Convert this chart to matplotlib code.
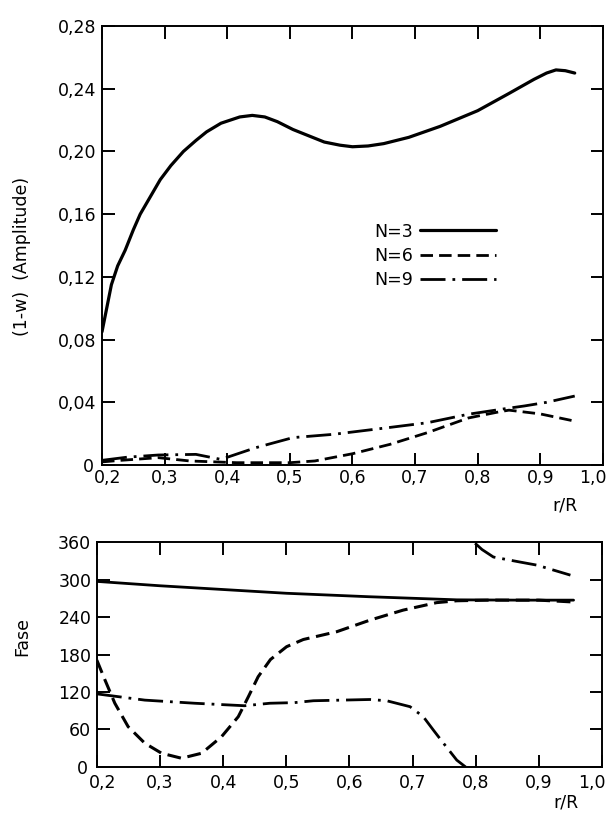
import matplotlib
matplotlib.use("Agg")
import matplotlib.pyplot as plt
from matplotlib.transforms import ScaledTranslation

# ---------------- data ----------------
amp_r_n3 = [0.200, 0.205, 0.215, 0.225, 0.237, 0.250, 0.261, 0.277, 0.293, 0.310,
            0.330, 0.350, 0.367, 0.390, 0.420, 0.440, 0.460, 0.480, 0.505, 0.530,
            0.555, 0.580, 0.600, 0.625, 0.650, 0.690, 0.740, 0.770, 0.800, 0.850,
            0.890, 0.910, 0.925, 0.940, 0.955]
amp_n3 = [0.085, 0.095, 0.115, 0.127, 0.137, 0.150, 0.160, 0.171, 0.182, 0.191,
          0.200, 0.207, 0.2125, 0.218, 0.222, 0.223, 0.222, 0.219, 0.214, 0.210,
          0.206, 0.204, 0.203, 0.2035, 0.205, 0.209, 0.216, 0.221, 0.226, 0.237,
          0.246, 0.250, 0.252, 0.2515, 0.250]

amp_r_n6 = [0.200, 0.230, 0.290, 0.340, 0.415, 0.500, 0.540, 0.600, 0.660, 0.720,
            0.785, 0.835, 0.850, 0.900, 0.955]
amp_n6 = [0.002, 0.003, 0.0047, 0.0026, 0.0015, 0.0015, 0.0026, 0.0072, 0.0132, 0.0207,
          0.030, 0.034, 0.035, 0.0326, 0.028]

amp_r_n9 = [0.200, 0.240, 0.290, 0.350, 0.390, 0.445, 0.505, 0.570, 0.660, 0.720,
            0.785, 0.845, 0.875, 0.910, 0.955]
amp_n9 = [0.003, 0.005, 0.0064, 0.0068, 0.0036, 0.011, 0.0175, 0.0196, 0.024, 0.027,
          0.0324, 0.036, 0.0377, 0.040, 0.044]

ph_r_n3 = [0.20, 0.30, 0.40, 0.50, 0.63, 0.77, 0.87, 0.955]
ph_n3 = [297, 290, 284, 278, 272.5, 267.5, 267, 267]

ph_r_n6 = [0.200, 0.213, 0.2285, 0.2496, 0.276, 0.3025, 0.334, 0.366, 0.3975, 0.424,
           0.440, 0.4555, 0.475, 0.5005, 0.527, 0.580, 0.6325, 0.685, 0.738, 0.770,
           0.821, 0.900, 0.955]
ph_n6 = [171, 139, 102, 64.5, 38, 22, 14, 22, 48.5, 80.5,
         112.5, 144.5, 172, 192.5, 204, 216.5, 235, 251, 263, 266,
         267, 267, 264]

ph_r_n9_a = [0.200, 0.276, 0.355, 0.434, 0.474, 0.513, 0.543, 0.6325, 0.659, 0.696,
             0.717, 0.733, 0.749, 0.770, 0.784]
ph_n9_a = [117, 107, 102, 98, 102, 103, 106, 108, 106, 96.5,
           80.5, 59, 38, 11, 0]
ph_r_n9_b = [0.799, 0.810, 0.828, 0.870, 0.897, 0.950]
ph_n9_b = [358, 348, 336, 328, 323, 307]

amp_yticks = [0, 0.04, 0.08, 0.12, 0.16, 0.20, 0.24, 0.28]
amp_ylabels = ["0", "0,04", "0,08", "0,12", "0,16", "0,20", "0,24", "0,28"]
ph_yticks = [0, 60, 120, 180, 240, 300, 360]
ph_ylabels = ["0", "60", "120", "180", "240", "300", "360"]
xticks = [0.2, 0.3, 0.4, 0.5, 0.6, 0.7, 0.8, 0.9, 1.0]
xlabels = ["0,2", "0,3", "0,4", "0,5", "0,6", "0,7", "0,8", "0,9", "1,0"]
legend_labels = ["N=3", "N=6", "N=9"]

# ---------------- figure ----------------
plt.rcParams['font.family'] = ['DejaVu Sans']
FS = 12.5
fig = plt.figure(figsize=(6.09, 8.13), dpi=100)

ax1 = fig.add_axes([0.1675, 0.428, 0.8225, 0.540])
ax2 = fig.add_axes([0.159, 0.0566, 0.8295, 0.2767])

DASH = (4.5, 2.2)
DASHDOT = (9, 2.5, 1, 2.5)
kw = dict(color='black', solid_joinstyle='round', solid_capstyle='round',
          dash_joinstyle='round')

l3, = ax1.plot(amp_r_n3, amp_n3, lw=2.3, **kw)
l6, = ax1.plot(amp_r_n6, amp_n6, lw=2.0, dashes=DASH, **kw)
l9, = ax1.plot(amp_r_n9, amp_n9, lw=2.0, dashes=DASHDOT, **kw)

ax2.plot(ph_r_n3, ph_n3, lw=2.0, **kw)
ax2.plot(ph_r_n6, ph_n6, lw=2.2, dashes=DASH, **kw)
ax2.plot(ph_r_n9_a, ph_n9_a, lw=2.0, dashes=DASHDOT, **kw)
ax2.plot(ph_r_n9_b, ph_n9_b, lw=2.0, dashes=DASHDOT, **kw)

for ax in (ax1, ax2):
    ax.set_xlim(0.2, 1.0)
    ax.set_xticks(xticks)
    ax.set_xticklabels(xlabels, fontsize=FS)
    ax.tick_params(direction='in', top=True, right=True, length=9, width=1.4,
                   labelsize=FS)
    for s in ax.spines.values():
        s.set_linewidth(1.4)

ax1.set_ylim(0, 0.28)
ax1.set_yticks(amp_yticks)
ax1.set_yticklabels(amp_ylabels)
ax1.tick_params(axis='x', pad=3)
ax1.tick_params(axis='y', pad=4)

ax2.set_ylim(0, 360)
ax2.set_yticks(ph_yticks)
ax2.set_yticklabels(ph_ylabels)
ax2.tick_params(axis='x', pad=5)
ax2.tick_params(axis='y', pad=4)

# nudge the corner labels like the original
for ax in (ax1, ax2):
    labs = ax.get_xticklabels()
    labs[0].set_transform(labs[0].get_transform() +
                          ScaledTranslation(6 / 100, 0, fig.dpi_scale_trans))
    labs[-1].set_horizontalalignment('right')
    labs[-1].set_transform(labs[-1].get_transform() +
                           ScaledTranslation(4 / 100, 0, fig.dpi_scale_trans))
    ylabs = ax.get_yticklabels()
    ylabs[0].set_transform(ylabs[0].get_transform() +
                           ScaledTranslation(-3 / 100, 0, fig.dpi_scale_trans))

leg = ax1.legend([l3, l6, l9], legend_labels, loc='center',
                 bbox_to_anchor=(0.665, 0.477), frameon=False, fontsize=FS,
                 markerfirst=False, handlelength=4.4, handletextpad=0.4,
                 labelspacing=0.35, borderpad=0)

fig.text(22 / 609, 1 - 256 / 813, "(1-w)  (Amplitude)", rotation=90,
         ha='center', va='center', fontsize=FS)
fig.text(22 / 609, 1 - 636 / 813, "Fase", rotation=90,
         ha='center', va='center', fontsize=FS)
fig.text(565 / 609, 1 - 505 / 813, "r/R", ha='center', va='center', fontsize=FS)
fig.text(566 / 609, 1 - 802 / 813, "r/R", ha='center', va='center', fontsize=FS)

fig.savefig("out.png", dpi=100, facecolor='white')
